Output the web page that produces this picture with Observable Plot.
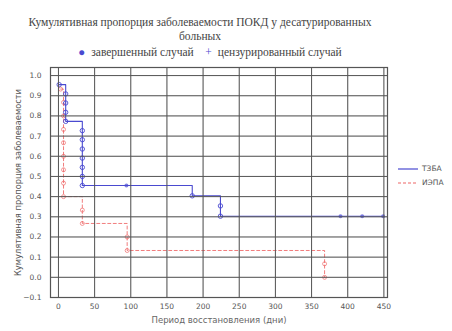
<!DOCTYPE html>
<html><head><meta charset="utf-8">
<script src="https://cdn.jsdelivr.net/npm/d3@7"></script>
<script src="https://cdn.jsdelivr.net/npm/@observablehq/plot@0.6"></script>
<style>
body{margin:0;background:#fff;}
#wrap{position:relative;width:452px;height:331px;overflow:hidden;}
#title{position:absolute;left:0;top:15px;width:400px;text-align:center;font-family:"Liberation Serif",serif;font-size:11.5px;line-height:14px;color:#444;}
#leg1{position:absolute;left:0;top:46px;width:420px;text-align:center;font-family:"Liberation Serif",serif;font-size:11.5px;color:#444;}
#leg1 .s{color:#4a4ad0;margin-right:6px;}
#leg2{position:absolute;left:398px;top:162px;font-family:"DejaVu Sans",sans-serif;font-size:7.5px;color:#555;line-height:14px;}
#leg2 svg{vertical-align:middle;margin-right:4px;}
</style></head>
<body><div id="wrap">
<div id="title">Кумулятивная пропорция заболеваемости ПОКД у десатурированных<br>больных</div>
<div id="leg1"><span class="s">●</span>завершенный случай&nbsp;&nbsp;&nbsp;&nbsp;<span class="s">+</span>цензурированный случай</div>
<div id="leg2">
<div><svg width="20" height="4"><line x1="0" y1="2" x2="20" y2="2" stroke="#4a4ad0" stroke-width="1.2"/></svg>ТЗБА</div>
<div><svg width="20" height="4"><line x1="0" y1="2" x2="20" y2="2" stroke="#ee6666" stroke-width="1.2" stroke-dasharray="3,2"/></svg>ИЭПА</div>
</div>
</div>
<script>
// ТЗБА (blue, solid)
const blueEventTime = [1, 10, 10, 10, 10, 33, 33, 33, 33, 33, 33, 33, 185, 224, 224];
const blueEventSurv = [0.955, 0.909, 0.864, 0.818, 0.773, 0.727, 0.682, 0.636, 0.591, 0.545, 0.5, 0.455, 0.404, 0.354, 0.303];
const blueCensTime = [94, 390, 420, 449];
const blueCensSurv = [0.455, 0.303, 0.303, 0.303];
const blueEnd = [450, 0.303];
// ИЭПА (red, dashed)
const redEventTime = [3, 7, 7, 7, 7, 7, 7, 7, 7, 33, 33, 95, 95, 368, 368];
const redEventSurv = [0.933, 0.867, 0.8, 0.733, 0.667, 0.6, 0.533, 0.467, 0.4, 0.333, 0.267, 0.2, 0.133, 0.067, 0.0];
const xTicks = [0, 50, 100, 150, 200, 250, 300, 350, 400, 450];
const yTicks = [-0.1, 0, 0.1, 0.2, 0.3, 0.4, 0.5, 0.6, 0.7, 0.8, 0.9, 1.0];
const xLabel = "Период восстановления (дни)";
const yLabel = "Кумулятивная пропорция заболеваемости";

const blueEvents = blueEventTime.map((t, i) => ({t, s: blueEventSurv[i]}));
const blueCens = blueCensTime.map((t, i) => ({t, s: blueCensSurv[i]}));
const blueLine = [...blueEvents, ...blueCens, {t: blueEnd[0], s: blueEnd[1]}]
  .sort((a, b) => a.t - b.t || b.s - a.s);
const redEvents = redEventTime.map((t, i) => ({t, s: redEventSurv[i]}));
const redLine = [...redEvents].sort((a, b) => a.t - b.t || b.s - a.s);

const BLUE = "#4a4ad0", RED = "#ee6666";
const chart = Plot.plot({
  width: 452, height: 331,
  marginLeft: 50, marginRight: 65, marginTop: 67, marginBottom: 34,
  style: {fontFamily: "DejaVu Sans, sans-serif", fontSize: "7.5px", color: "#555", background: "transparent"},
  x: {domain: [-11, 455]},
  y: {domain: [-0.1, 1.04]},
  marks: [
    Plot.gridX(xTicks, {stroke: "#dcdcdc", strokeOpacity: 1, strokeWidth: 0.8}),
    Plot.gridY(yTicks, {stroke: "#dcdcdc", strokeOpacity: 1, strokeWidth: 0.8}),
    Plot.line(redLine, {x: "t", y: "s", curve: "step-after", stroke: RED, strokeWidth: 1, strokeDasharray: "3,2.5", strokeOpacity: 0.85}),
    Plot.dot(redEvents, {x: "t", y: "s", r: 2, stroke: RED, strokeWidth: 0.9, fill: "none", strokeOpacity: 0.75}),
    Plot.line(blueLine, {x: "t", y: "s", curve: "step-after", stroke: BLUE, strokeWidth: 1.1}),
    Plot.dot(blueEvents, {x: "t", y: "s", r: 2.2, stroke: BLUE, strokeWidth: 0.9, fill: "none"}),
    Plot.dot(blueCens, {x: "t", y: "s", r: 2, fill: BLUE, fillOpacity: 0.7, stroke: "none"}),
    Plot.axisX(xTicks, {tickSize: 0, tickPadding: 6, fontSize: 7.5, color: "#555", label: null}),
    Plot.axisY(yTicks, {tickSize: 0, tickPadding: 9, fontSize: 7.5, tickFormat: d3.format(".1f"), color: "#555", label: null}),
    Plot.tickX(xTicks, {x: d => d, y1: -0.1, y2: -0.085, stroke: "#555"}),
    Plot.tickY(yTicks, {y: d => d, x1: 455, x2: 449, stroke: "#555"}),
    Plot.frame({stroke: "#555", strokeWidth: 1.2}),
    Plot.text([xLabel], {frameAnchor: "bottom", dy: 25, fontSize: 8.5, fill: "#666"}),
    Plot.text([yLabel], {frameAnchor: "left", textAnchor: "middle", dx: -32, rotate: -90, fontSize: 8.3, fill: "#555"})
  ]
});
chart.style.position = "absolute";
chart.style.left = "0";
chart.style.top = "0";
document.getElementById("wrap").prepend(chart);
</script>
</body></html>
